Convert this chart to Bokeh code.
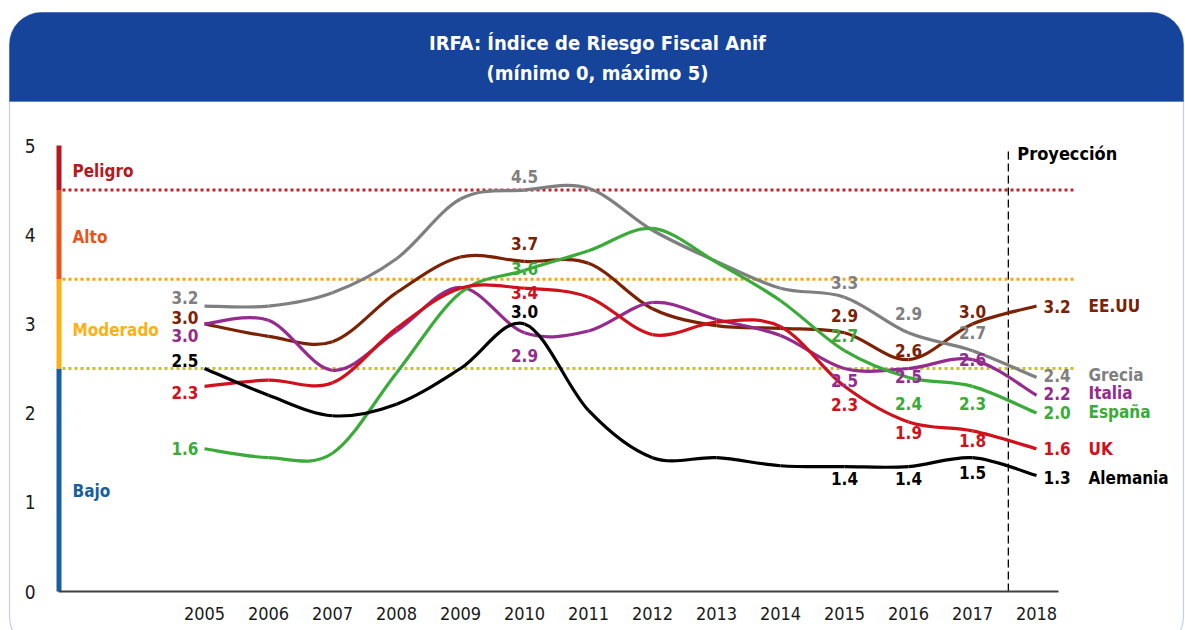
from bokeh.plotting import figure
from bokeh.models import Range1d, FixedTicker, BoxAnnotation
from bokeh.core.properties import value
from bokeh.embed import file_html
from bokeh.resources import INLINE

# ---------------- data ----------------
years = [2005, 2006, 2007, 2008, 2009, 2010, 2011, 2012, 2013, 2014, 2015, 2016, 2017, 2018]
grecia = [3.2, 3.2, 3.35, 3.73, 4.4, 4.5, 4.52, 4.05, 3.7, 3.4, 3.3, 2.9, 2.7, 2.4]
eeuu = [3.0, 2.86, 2.8, 3.35, 3.75, 3.7, 3.68, 3.17, 2.98, 2.95, 2.9, 2.6, 3.0, 3.2]
italia = [3.0, 3.04, 2.48, 2.92, 3.41, 2.9, 2.92, 3.24, 3.05, 2.87, 2.5, 2.5, 2.6, 2.2]
uk = [2.3, 2.37, 2.34, 2.95, 3.4, 3.4, 3.3, 2.88, 3.02, 2.97, 2.3, 1.9, 1.8, 1.6]
espana = [1.6, 1.5, 1.55, 2.45, 3.35, 3.6, 3.82, 4.07, 3.69, 3.26, 2.7, 2.4, 2.3, 2.0]
alemania = [2.5, 2.2, 1.97, 2.1, 2.5, 3.0, 2.03, 1.5, 1.5, 1.41, 1.4, 1.4, 1.5, 1.3]

series_names = ["EE.UU", "Grecia", "Italia", "España", "UK", "Alemania"]
series_values = [eeuu, grecia, italia, espana, uk, alemania]
label_years = [2005, 2010, 2015, 2016, 2017, 2018]

risk_names = ["Bajo", "Moderado", "Alto", "Peligro"]
risk_lo = [0, 2.5, 3.5, 4.5]
risk_hi = [2.5, 3.5, 4.5, 5]
y_ticks = [0, 1, 2, 3, 4, 5]

title_text = "IRFA: Índice de Riesgo Fiscal Anif"
subtitle_text = "(mínimo 0, máximo 5)"
proj_text = "Proyección"
proj_year = 2017.56

# ---------------- styles ----------------
colors = {"EE.UU": "#7b2104", "Grecia": "#7f7f7f", "Italia": "#942b8f",
          "España": "#3aab39", "UK": "#d0111b", "Alemania": "#000000"}
risk_colors = ["#195f9b", "#fbb116", "#e8541c", "#b5191e"]
thresh_colors = {2.5: "#c9c41c", 3.5: "#f7a21b", 4.5: "#c0242b"}
label_dy = {
    "Grecia": [-9, -14, -15, -19, -18, -2],
    "EE.UU": [-6, -18, -17, -9, -12, 0],
    "Italia": [12, 23, 12, 8, 0, -2],
    "UK": [6, 4, 18, 10, 10, 0],
    "España": [0, -2, -15, 26, 17, -1],
    "Alemania": [-8, -12, 12, 12, 15, 2],
}
FONT_NAME = "DejaVu Sans Condensed, Lato"
FONT = value(FONT_NAME)
LBL_SIZE = "17px"

W, H = 1185, 630
PX_YEAR = 64.0
PX_UNIT = 89.2
X0_PX = 204   # pixel of year 2005
Y0_PX = 591   # pixel of value 0
x_start = 2005 - X0_PX / PX_YEAR
x_end = x_start + W / PX_YEAR
y_start = -(H - Y0_PX) / PX_UNIT
y_end = Y0_PX / PX_UNIT


def px_x(px):
    return x_start + px / PX_YEAR


def px_y(py):
    return (Y0_PX - py) / PX_UNIT


p = figure(width=W, height=H, output_backend="svg", toolbar_location=None,
           x_range=Range1d(x_start, x_end), y_range=Range1d(y_start, y_end),
           min_border=0)
p.outline_line_color = None
p.grid.grid_line_color = None
p.background_fill_color = "white"
p.border_fill_color = "white"

for ax in (p.xaxis[0], p.yaxis[0]):
    ax.axis_line_color = None
    ax.major_tick_line_color = None
    ax.minor_tick_line_color = None
    ax.major_label_text_font = FONT_NAME
    ax.major_label_text_color = "#1a1a1a"
p.xaxis.major_label_text_font_size = "18px"
p.yaxis.major_label_text_font_size = "19px"
p.xaxis.ticker = FixedTicker(ticks=years)
p.yaxis.ticker = FixedTicker(ticks=y_ticks)
p.xaxis.fixed_location = 0
p.yaxis.fixed_location = px_x(58)
p.xaxis.major_label_standoff = 9
p.yaxis.major_label_standoff = 17

# outer panel and header
p.add_layout(BoxAnnotation(left=px_x(9), right=px_x(1183), top=px_y(12), bottom=px_y(648),
                           fill_color=None, fill_alpha=0, line_color="#3b63b5", line_width=1.2,
                           border_radius=32, level="underlay"))
p.add_layout(BoxAnnotation(left=px_x(9), right=px_x(1183), top=px_y(12), bottom=px_y(101),
                           fill_color="#15449a", fill_alpha=1, line_color="#15449a", line_width=1,
                           border_radius=(32, 32, 0, 0)))
p.text(x=[px_x(597)], y=[px_y(42)], text=[title_text], text_font=FONT, text_font_style="bold",
       text_font_size="20px", text_color="white", text_align="center", text_baseline="middle",
       level="overlay")
p.text(x=[px_x(597)], y=[px_y(72)], text=[subtitle_text], text_font=FONT, text_font_style="bold",
       text_font_size="20px", text_color="white", text_align="center", text_baseline="middle",
       level="overlay")

# threshold dotted lines
for lvl, col in thresh_colors.items():
    p.segment(x0=[px_x(62)], y0=[lvl], x1=[px_x(1075)], y1=[lvl], line_color=col,
              line_width=3, line_dash="3 3")

# projection line
p.segment(x0=[proj_year], y0=[0], x1=[proj_year], y1=[4.95], line_color="black",
          line_width=1.3, line_dash="8 4")
p.text(x=[proj_year], y=[4.95], text=[proj_text], text_font=FONT, text_font_style="bold",
       text_font_size="18px", text_color="black", text_align="left", text_baseline="middle",
       x_offset=9, y_offset=4)

# risk bar on the y axis
p.segment(x0=[px_x(58.5)] * 4, y0=risk_lo, x1=[px_x(58.5)] * 4, y1=risk_hi,
          line_color=risk_colors, line_width=5)
risk_label_y = [1.13, 2.93, 3.97, 4.71]
p.text(x=[px_x(72)] * 4, y=risk_label_y, text=risk_names, text_font=FONT,
       text_font_style="bold", text_font_size=LBL_SIZE, text_color=risk_colors,
       text_align="left", text_baseline="middle")

# baseline
p.segment(x0=[px_x(58)], y0=[0], x1=[px_x(1058)], y1=[0], line_color="#3f3f3f",
          line_width=2)


# smoothed series (Catmull-Rom -> cubic Bezier)
def bezier_parts(xs, ys):
    n = len(xs)
    out = {k: [] for k in ("x0", "y0", "x1", "y1", "cx0", "cy0", "cx1", "cy1")}
    for i in range(n - 1):
        i0 = max(i - 1, 0)
        i3 = min(i + 2, n - 1)
        out["x0"].append(xs[i]); out["y0"].append(ys[i])
        out["x1"].append(xs[i + 1]); out["y1"].append(ys[i + 1])
        out["cx0"].append(xs[i] + (xs[i + 1] - xs[i0]) / 6)
        out["cy0"].append(ys[i] + (ys[i + 1] - ys[i0]) / 6)
        out["cx1"].append(xs[i + 1] - (xs[i3] - xs[i]) / 6)
        out["cy1"].append(ys[i + 1] - (ys[i3] - ys[i]) / 6)
    return out


for name, vals in zip(series_names, series_values):
    b = bezier_parts(years, vals)
    p.bezier(line_color=colors[name], line_width=3.2, **b)

# data labels
for name, vals in zip(series_names, series_values):
    for j, yr in enumerate(label_years):
        v = vals[years.index(yr)]
        if yr == years[0]:
            align, dx = "right", -6
        elif yr == years[-1]:
            align, dx = "left", 7
        else:
            align, dx = "center", 0
        p.text(x=[yr], y=[v], text=[f"{v:.1f}"], text_font=FONT, text_font_style="bold",
               text_font_size=LBL_SIZE, text_color=colors[name], text_align=align,
               text_baseline="middle", x_offset=dx, y_offset=label_dy[name][j], level="overlay")
    v_last = vals[-1]
    p.text(x=[years[-1]], y=[v_last], text=[name], text_font=FONT, text_font_style="bold",
           text_font_size=LBL_SIZE, text_color=colors[name], text_align="left",
           text_baseline="middle", x_offset=52, y_offset=label_dy[name][-1], level="overlay")

open("out.html", "w").write(file_html(p, INLINE))
